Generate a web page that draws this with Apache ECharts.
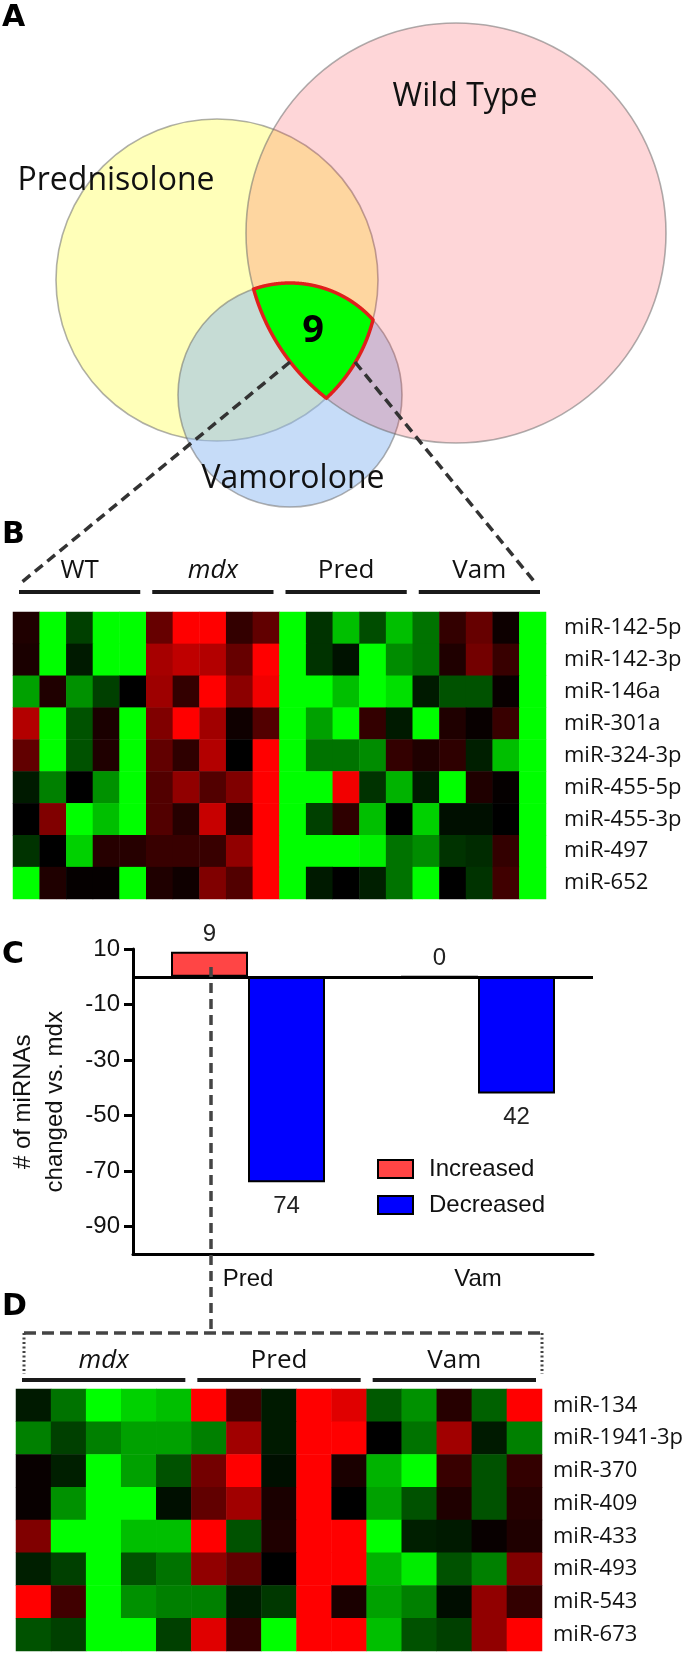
<!DOCTYPE html>
<html><head><meta charset="utf-8">
<script src="https://cdn.jsdelivr.net/npm/echarts@6/dist/echarts.min.js"></script>
<style>html,body{margin:0;padding:0;background:#fff}#main{width:693px;height:1653px}</style>
</head><body><div id="main"></div>
<script>
// ---------- Panel A: Venn (set geometry in data units) ----------
const vennSets = [
  {name: 'Prednisolone', cx: 217, cy: 280, r: 161},
  {name: 'Vamorolone',   cx: 290, cy: 395, r: 112},
  {name: 'Wild Type',    cx: 456, cy: 233, r: 210}
];
const vennOverlapCount = 9;

// ---------- Panel B: heatmap ----------
const groupsB = ['WT', 'mdx', 'Pred', 'Vam'];
const samplesPerGroupB = 5;
const rowsB = ['miR-142-5p','miR-142-3p','miR-146a','miR-301a','miR-324-3p','miR-455-5p','miR-455-3p','miR-497','miR-652'];
const valuesB = [
  [0.12,-1,-0.25,-1,-1, 0.4,1,1,0.2,0.38, -1,-0.2,-0.75,-0.3,-0.75, -0.45,0.2,0.4,0.05,-1],
  [0.1,-1,-0.1,-1,-1, 0.65,0.75,0.7,0.4,1, -1,-0.2,-0.07,-1,-0.55, -0.45,0.12,0.45,0.22,-1],
  [-0.63,0.12,-0.57,-0.25,0, 0.62,0.2,1,0.55,0.95, -1,-1,-0.75,-1,-0.88, -0.1,-0.32,-0.32,0.03,-1],
  [0.7,-1,-0.32,0.1,-1, 0.5,1,0.63,0.06,0.32, -1,-0.63,-1,0.2,-0.1, -1,0.12,0.03,0.22,-1],
  [0.38,-1,-0.32,0.12,-1, 0.38,0.18,0.7,0,1, -1,-0.45,-0.45,-0.55,0.2, 0.12,0.18,-0.12,-0.75,-1],
  [-0.1,-0.5,0,-0.57,-1, 0.32,0.57,0.32,0.5,1, -1,-1,0.95,-0.2,-0.7, -0.1,-1,0.12,0.02,-1],
  [0,0.5,-1,-0.75,-1, 0.32,0.15,0.78,0.12,1, -1,-0.25,0.18,-0.75,0, -0.82,-0.06,-0.06,0,-1],
  [-0.2,0,-0.82,0.15,0.15, 0.22,0.22,0.22,0.57,1, -1,-1,-1,-0.95,-0.45, -0.55,-0.2,-0.17,0.2,-1],
  [-1,0.12,0.02,0.02,-1, 0.12,0.06,0.5,0.32,1, -1,-0.1,0,-0.12,-0.45, -1,0,-0.2,0.25,-1]
];

// ---------- Panel C: bars ----------
const barCategories = ['Pred', 'Vam'];
const increased = [9, 0];
const decreased = [-74, -42];
const yTickValues = [10, -10, -30, -50, -70, -90];

// ---------- Panel D: heatmap ----------
const groupsD = ['mdx', 'Pred', 'Vam'];
const samplesPerGroupD = 5;
const rowsD = ['miR-134','miR-1941-3p','miR-370','miR-409','miR-433','miR-493','miR-543','miR-673'];
const valuesD = [
  [-0.1,-0.45,-1,-0.82,-0.75, 1,0.25,-0.1,1,0.88, -0.35,-0.57,0.15,-0.38,1],
  [-0.5,-0.25,-0.5,-0.63,-0.63, -0.5,0.63,-0.1,1,1, 0,-0.45,0.63,-0.1,-0.5],
  [0.03,-0.12,-1,-0.63,-0.32, 0.45,1,-0.06,1,0.1, -0.7,-1,0.22,-0.32,0.2],
  [0.03,-0.57,-1,-1,-0.06, 0.38,0.63,0.1,1,0, -0.63,-0.32,0.12,-0.32,0.15],
  [0.5,-1,-1,-0.75,-0.75, 1,-0.32,0.12,1,1, -1,-0.12,-0.1,0.03,0.12],
  [-0.12,-0.25,-1,-0.32,-0.45, 0.57,0.38,0,1,1, -0.7,-0.93,-0.32,-0.5,0.5],
  [1,0.25,-1,-0.57,-0.5, -0.5,-0.1,-0.22,1,0.1, -0.63,-0.5,-0.05,0.57,0.2],
  [-0.32,-0.25,-1,-1,-0.25, 0.88,0.2,-1,1,1, -0.75,-0.32,-0.25,0.57,1]
];

// ---------- helpers ----------
const FONT_OS = '"Open Sans", sans-serif';
const FONT_AR = '"Liberation Sans", Arial, sans-serif';

function colNames(groups, per) {
  const out = [];
  groups.forEach(g => { for (let i = 1; i <= per; i++) out.push(g + ' ' + i); });
  return out;
}
function toCells(values) {
  const out = [];
  values.forEach((row, r) => row.forEach((v, c) => out.push([c, r, v])));
  return out;
}
function intersectionPolygon(circles, p0, n) {
  const pts = [];
  for (let k = 0; k < n; k++) {
    const a = 2 * Math.PI * k / n, dx = Math.cos(a), dy = Math.sin(a);
    let tMin = Infinity;
    circles.forEach(c => {
      const ox = p0[0] - c.x, oy = p0[1] - c.y;
      const b = dx * ox + dy * oy;
      const cc = ox * ox + oy * oy - c.r * c.r;
      const t = -b + Math.sqrt(Math.max(0, b * b - cc));
      if (t < tMin) tMin = t;
    });
    pts.push([p0[0] + dx * tMin, p0[1] + dy * tMin]);
  }
  return pts;
}
function groupHeader(xIdx, yIdx, groups, per, labelOff, lineOff, fontSize) {
  return {
    type: 'custom', xAxisIndex: xIdx, yAxisIndex: yIdx, silent: true, clip: false, z: 5,
    data: groups.map((g, i) => [i * per, (i + 1) * per - 1]),
    renderItem: function (params, api) {
      const i = params.dataIndex;
      const a = api.coord([api.value(0), 0]);
      const b = api.coord([api.value(1), 0]);
      const sz = api.size([1, 1]);
      const inset = 6;
      const x0 = a[0] - sz[0] / 2 + inset, x1 = b[0] + sz[0] / 2 - inset;
      const top = a[1] - sz[1] / 2;
      const name = groups[i];
      return {type: 'group', children: [
        {type: 'line', shape: {x1: x0, y1: top - lineOff, x2: x1, y2: top - lineOff},
         style: {stroke: '#1a1a1a', lineWidth: 4}},
        {type: 'text', x: (x0 + x1) / 2, y: top - labelOff,
         style: {text: name, fill: '#111', fontSize: fontSize, fontFamily: FONT_OS,
                 fontStyle: name === 'mdx' ? 'italic' : 'normal',
                 align: 'center', verticalAlign: 'middle', textAlign: 'center', textVerticalAlign: 'middle'}}
      ]};
    }
  };
}

const vennFills = ['rgb(255,255,185)', 'rgba(141,185,241,0.5)', 'rgba(250,50,60,0.2)'];
const vennLabelAnchors = [[116, 181], [293, 479], [465, 97]];

const chart = echarts.init(document.getElementById('main'), null, {renderer: 'canvas', width: 693, height: 1653});

const option = {
  backgroundColor: '#fff',
  animation: false,
  grid: [
    {left: 0, top: 0, width: 693, height: 520, outerBoundsMode: 'none'},
    {left: 13, top: 612, width: 533, height: 287, outerBoundsMode: 'none'},
    {left: 133, top: 949, width: 460, height: 305.5, outerBoundsMode: 'none'},
    {left: 16, top: 1389, width: 526, height: 262, outerBoundsMode: 'none'}
  ],
  xAxis: [
    {gridIndex: 0, type: 'value', min: 0, max: 693, show: false},
    {gridIndex: 1, type: 'category', data: colNames(groupsB, samplesPerGroupB), show: false},
    {gridIndex: 2, type: 'category', data: barCategories,
     axisLine: {onZero: false, lineStyle: {color: '#000', width: 3}},
     axisTick: {alignWithLabel: true, length: 8, lineStyle: {color: '#000', width: 3}},
     axisLabel: {fontSize: 24, color: '#111', fontFamily: FONT_AR, margin: 13},
     splitLine: {show: false}},
    {gridIndex: 3, type: 'category', data: colNames(groupsD, samplesPerGroupD), show: false}
  ],
  yAxis: [
    {gridIndex: 0, type: 'value', min: 0, max: 520, inverse: true, show: false},
    {gridIndex: 1, type: 'category', data: rowsB, inverse: true, position: 'right',
     axisLine: {show: false}, axisTick: {show: false}, splitLine: {show: false},
     axisLabel: {fontSize: 22, color: '#111', fontFamily: FONT_OS, margin: 18}},
    {gridIndex: 2, type: 'value', min: -100, max: 10,
     axisLine: {show: true, onZero: false, lineStyle: {color: '#000', width: 3}},
     axisTick: {show: true, length: 9, lineStyle: {color: '#000', width: 3}, customValues: yTickValues},
     axisLabel: {fontSize: 24, color: '#111', fontFamily: FONT_AR, margin: 13, customValues: yTickValues},
     splitLine: {show: false},
     name: '# of miRNAs\nchanged vs. mdx', nameLocation: 'middle', nameRotate: 90, nameGap: 62,
     nameTextStyle: {fontSize: 24, color: '#111', fontFamily: FONT_AR, lineHeight: 32, align: 'center'}},
    {gridIndex: 3, type: 'category', data: rowsD, inverse: true, position: 'right',
     axisLine: {show: false}, axisTick: {show: false}, splitLine: {show: false},
     axisLabel: {fontSize: 22, color: '#111', fontFamily: FONT_OS, margin: 11}}
  ],
  visualMap: {
    type: 'continuous', show: false, min: -1, max: 1, seriesIndex: [2, 7],
    inRange: {color: ['#00ff00', '#000000', '#ff0000']}
  },
  legend: {
    data: ['Increased', 'Decreased'], orient: 'vertical', left: 377, top: 1157,
    itemWidth: 35, itemHeight: 18, itemGap: 12, icon: 'rect', selectedMode: false, padding: 0,
    textStyle: {fontSize: 24, fontFamily: FONT_AR, color: '#111', lineHeight: 18, padding: [0, 0, 0, 11]}
  },
  series: [
    // 0: Venn circles
    {
      type: 'custom', xAxisIndex: 0, yAxisIndex: 0, silent: true, clip: false, z: 1,
      data: vennSets.map(s => [s.cx, s.cy, s.r]),
      renderItem: function (params, api) {
        const c = api.coord([api.value(0), api.value(1)]);
        const r = api.size([api.value(2), api.value(2)])[0];
        return {type: 'circle', shape: {cx: c[0], cy: c[1], r: r},
                style: {fill: vennFills[params.dataIndex], stroke: 'rgba(110,110,110,0.55)', lineWidth: 1.6}};
      }
    },
    // 1: Venn intersection + labels
    {
      type: 'custom', xAxisIndex: 0, yAxisIndex: 0, silent: true, clip: false, z: 3,
      data: [[313, 331]],
      renderItem: function (params, api) {
        const circles = vennSets.map(s => {
          const c = api.coord([s.cx, s.cy]);
          return {x: c[0], y: c[1], r: api.size([s.r, s.r])[0]};
        });
        const p0 = api.coord([api.value(0), api.value(1)]);
        const pts = intersectionPolygon(circles, p0, 1440);
        const children = [
          {type: 'polygon', shape: {points: pts},
           style: {fill: '#00ff00', stroke: '#e0201c', lineWidth: 3.5, lineJoin: 'miter'}},
          {type: 'text', x: p0[0], y: p0[1],
           style: {text: String(vennOverlapCount), fill: '#000', fontSize: 38, fontWeight: 'bold', fontFamily: FONT_OS,
                   align: 'center', verticalAlign: 'middle', textAlign: 'center', textVerticalAlign: 'middle'}}
        ];
        vennSets.forEach((s, i) => {
          const lp = api.coord(vennLabelAnchors[i]);
          children.push({type: 'text', x: lp[0], y: lp[1],
            style: {text: s.name, fill: '#111', fontSize: 32, fontFamily: FONT_OS,
                    align: 'center', verticalAlign: 'middle', textAlign: 'center', textVerticalAlign: 'middle'}});
        });
        return {type: 'group', children: children};
      }
    },
    // 2: heatmap B
    {
      type: 'heatmap', xAxisIndex: 1, yAxisIndex: 1, data: toCells(valuesB),
      itemStyle: {borderWidth: 0}, emphasis: {disabled: true}, silent: true
    },
    // 3: header B
    groupHeader(1, 1, groupsB, samplesPerGroupB, 41, 20, 26),
    // 4: Increased
    {
      name: 'Increased', type: 'bar', xAxisIndex: 2, yAxisIndex: 2, data: increased,
      barWidth: 77, barGap: '0%',
      itemStyle: {color: '#ff4545', borderColor: '#000', borderWidth: 2},
      label: {show: true, position: 'top', distance: 5, fontSize: 24, color: '#222', fontFamily: FONT_AR},
      markLine: {silent: true, symbol: 'none', label: {show: false},
                 lineStyle: {color: '#000', width: 3, type: 'solid'}, data: [{yAxis: 0}]},
      z: 2
    },
    // 5: Decreased
    {
      name: 'Decreased', type: 'bar', xAxisIndex: 2, yAxisIndex: 2, data: decreased,
      barWidth: 77, barGap: '0%',
      itemStyle: {color: '#0000ff', borderColor: '#000', borderWidth: 2},
      label: {show: true, position: 'bottom', distance: 12, fontSize: 24, color: '#222', fontFamily: FONT_AR,
              formatter: p => Math.abs(p.value)},
      z: 2
    },
    // 6: placeholder to keep indices (empty)
    {type: 'custom', xAxisIndex: 3, yAxisIndex: 3, data: [], renderItem: function () {}},
    // 7: heatmap D
    {
      type: 'heatmap', xAxisIndex: 3, yAxisIndex: 3, data: toCells(valuesD),
      itemStyle: {borderWidth: 0}, emphasis: {disabled: true}, silent: true
    },
    // 8: header D
    groupHeader(3, 3, groupsD, samplesPerGroupD, 28, 9, 26)
  ],
  graphic: {
    elements: [
      {type: 'text', x: 2, y: 18, z: 100, style: {text: 'A', font: 'bold 30px "DejaVu Sans"', fill: '#000', verticalAlign: 'middle', textVerticalAlign: 'middle'}},
      {type: 'text', x: 2, y: 535, z: 100, style: {text: 'B', font: 'bold 30px "DejaVu Sans"', fill: '#000', verticalAlign: 'middle', textVerticalAlign: 'middle'}},
      {type: 'text', x: 2, y: 955, z: 100, style: {text: 'C', font: 'bold 30px "DejaVu Sans"', fill: '#000', verticalAlign: 'middle', textVerticalAlign: 'middle'}},
      {type: 'text', x: 2, y: 1307, z: 100, style: {text: 'D', font: 'bold 30px "DejaVu Sans"', fill: '#000', verticalAlign: 'middle', textVerticalAlign: 'middle'}},
      {type: 'line', z: 100, shape: {x1: 290, y1: 362, x2: 22, y2: 582}, style: {stroke: '#333', lineWidth: 3.5, lineDash: [10, 6]}},
      {type: 'line', z: 100, shape: {x1: 355, y1: 362, x2: 537, y2: 585}, style: {stroke: '#333', lineWidth: 3.5, lineDash: [10, 6]}},
      {type: 'line', z: 100, shape: {x1: 211, y1: 967, x2: 211, y2: 1333}, style: {stroke: '#444', lineWidth: 3.5, lineDash: [10, 6]}},
      {type: 'line', z: 100, shape: {x1: 24, y1: 1333, x2: 542, y2: 1333}, style: {stroke: '#444', lineWidth: 3.5, lineDash: [12, 6]}},
      {type: 'line', z: 100, shape: {x1: 24, y1: 1333, x2: 24, y2: 1374}, style: {stroke: '#444', lineWidth: 3, lineDash: [2, 2.5]}},
      {type: 'line', z: 100, shape: {x1: 542, y1: 1333, x2: 542, y2: 1374}, style: {stroke: '#444', lineWidth: 3, lineDash: [2, 2.5]}}
    ]
  }
};
chart.setOption(option);
</script>
</body></html>
